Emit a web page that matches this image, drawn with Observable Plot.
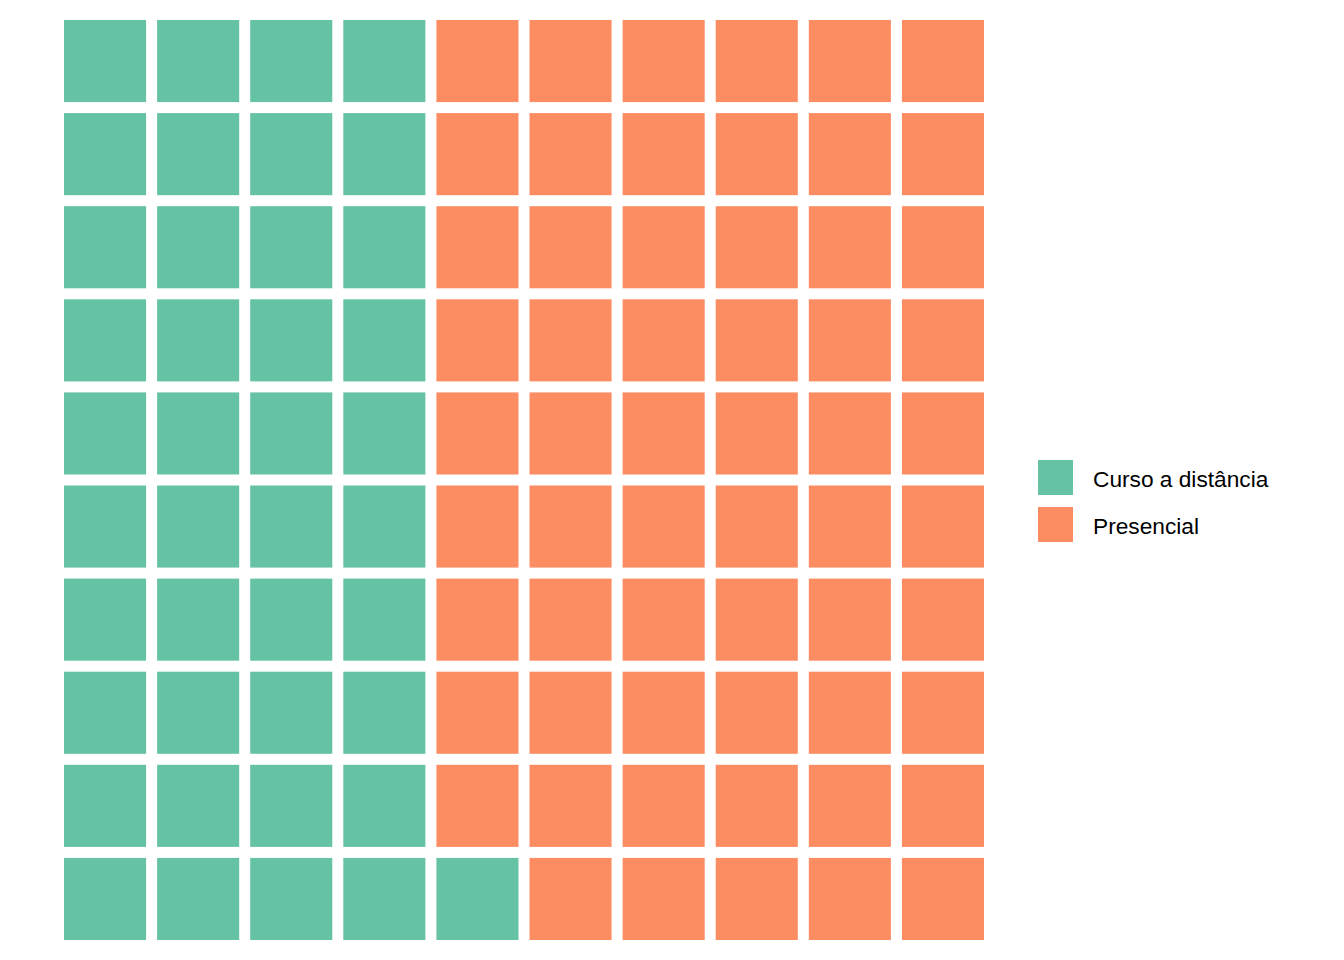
<!DOCTYPE html>
<html>
<head>
<meta charset="utf-8">
<script src="https://cdn.jsdelivr.net/npm/d3@7"></script>
<script src="https://cdn.jsdelivr.net/npm/@observablehq/plot@0.6"></script>
<style>
  html, body { margin: 0; padding: 0; background: #fff; }
  #wrap { position: relative; width: 1344px; height: 960px; }
  #legend { position: absolute; left: 1038px; top: 460px; font-family: "Liberation Sans", Arial, sans-serif; font-size: 22.7px; color: #000; }
  .item { display: flex; align-items: center; height: 35px; margin-bottom: 12px; }
  .sw { width: 35px; height: 35px; margin-right: 20px; }
  .lab { position: relative; top: 2px; }
</style>
</head>
<body>
<div id="wrap"><div id="chart"></div><div id="legend"></div></div>
<script>
const categories = ["Curso a distância", "Presencial"];
const values = [41, 59];
const colors = ["#66C2A5", "#FC8D62"];
const nCols = 10;
const nRows = 10;

// One record per unit, filling column by column from bottom-left
const cells = [];
let idx = 0;
categories.forEach((cat, ci) => {
  for (let k = 0; k < values[ci]; k++) {
    cells.push({col: Math.floor(idx / nRows), row: idx % nRows, cat});
    idx++;
  }
});

const chart = Plot.plot({
  width: 1344,
  height: 960,
  marginLeft: 64,
  marginRight: 360,
  marginTop: 20,
  marginBottom: 20,
  x: {type: "band", domain: d3.range(nCols), paddingInner: 11 / 93, paddingOuter: 0, round: false, axis: null},
  y: {type: "band", domain: d3.range(nRows).reverse(), paddingInner: 11 / 93, paddingOuter: 0, round: false, axis: null},
  color: {domain: categories, range: colors},
  marks: [
    Plot.cell(cells, {x: "col", y: "row", fill: "cat", inset: 0})
  ]
});
document.getElementById("chart").appendChild(chart);

const legend = document.getElementById("legend");
categories.forEach((cat, i) => {
  const item = document.createElement("div");
  item.className = "item";
  const sw = document.createElement("div");
  sw.className = "sw";
  sw.style.background = colors[i];
  const label = document.createElement("span");
  label.className = "lab";
  label.textContent = cat;
  item.appendChild(sw);
  item.appendChild(label);
  legend.appendChild(item);
});
</script>
</body>
</html>
